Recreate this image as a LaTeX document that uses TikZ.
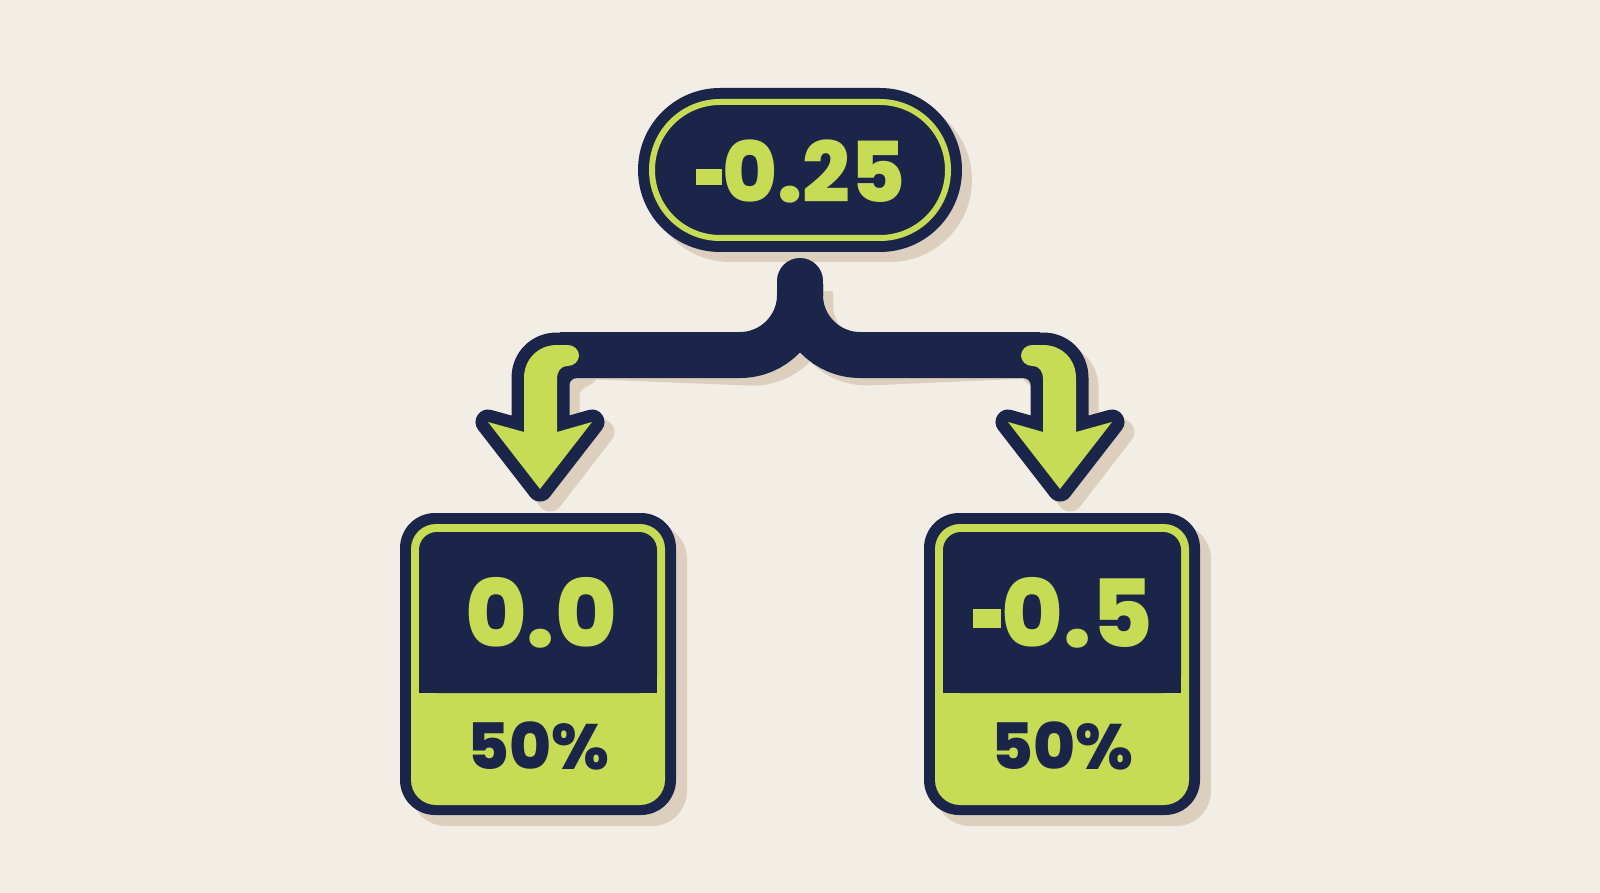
\documentclass[tikz,border=0pt]{standalone}
\usepackage{fontspec}
\newfontfamily\pop{Poppins ExtraBold}
\definecolor{bgc}{HTML}{F3EEE5}
\definecolor{navy}{HTML}{1A2549}
\definecolor{lime}{HTML}{C6DC55}
\definecolor{shadowc}{HTML}{DCCFBD}
\newcommand{\minus}{\rule[0.21em]{0.3em}{0.2em}\kern0.01em}
\tikzset{
  topval/.style={font=\pop\fontsize{84}{84}\selectfont, text=lime, inner sep=0pt},
  bigval/.style={font=\pop\fontsize{94}{94}\selectfont, text=lime, inner sep=0pt},
  pct/.style={font=\pop\fontsize{64}{64}\selectfont, text=navy, inner sep=0pt},
  outline/.style={line width=25pt, line join=round},
  bar/.style={line width=46pt, rounded corners=60pt}
}
% left arrow piece (green body), drawn with given options
\newcommand{\arrowpiece}[1]{%
  \path[#1] (568,345) -- (557,345)
    .. controls (538.2,345) and (524,359.2) .. (524,378)
    -- (524,432) -- (488,422) -- (540,489) -- (592,422) -- (557,432) -- (557,378)
    .. controls (557,371.4) and (561.4,366) .. (567,366) -- (568,366)
    .. controls (574,366) and (579,361) .. (579,355.5)
    .. controls (579,350) and (574,345) .. (568,345) -- cycle;}
% small concave fillet between bar and shaft outline
\newcommand{\fillet}[1]{%
  \fill[#1] (569,378) -- (577,378) .. controls (572.6,378) and (569,381.6) .. (569,386) -- cycle;}
% the whole connector: #1 dark colour, #2 light colour
\newcommand{\connector}[2]{%
  \fill[#1] (knob) circle[radius=23pt];
  \fill[#1] (777,281) rectangle (823,300);
  \draw[#1, bar] (800,284) -- (800,355) -- (barL);
  \draw[#1, bar] (800,284) -- (800,355) -- (barR);
  \arrowpiece{fill=#1, draw=#1, outline}
  \fillet{#1}
  \begin{scope}[xshift=1600pt, xscale=-1]
    \arrowpiece{fill=#1, draw=#1, outline}
    \fillet{#1}
  \end{scope}
  \arrowpiece{fill=#2}
  \begin{scope}[xshift=1600pt, xscale=-1]
    \arrowpiece{fill=#2}
  \end{scope}}
% result box: #1 xshift, #2 value, #3 name, #4 value x
\newcommand{\resultbox}[4]{%
  \begin{scope}[xshift=#1]
    \fill[navy, rounded corners=35pt] (400,513) rectangle (676,815);
    \fill[lime, rounded corners=25pt] (411,524) rectangle (665,805);
    \fill[navy, rounded corners=18pt] (419,532) rectangle (657,693);
    \fill[navy] (419,650) rectangle (657,693);
    \node[bigval] (#3v) at (#4,613) {#2};
    \node[pct] (#3p) at (538,746) {50\%};
  \end{scope}}
\begin{document}
\begin{tikzpicture}[x=1pt,y=-1pt]
  \fill[bgc] (0,0) rectangle (1600,893);
  \useasboundingbox (0,0) rectangle (1600,893);
  \coordinate (knob) at (800,281);
  \coordinate (barL) at (560,355);
  \coordinate (barR) at (1040,355);
  % shadows
  \fill[shadowc, rounded corners=82pt] (648,98) rectangle (972,262);
  \begin{scope}[shift={(10,10)}]
    \connector{shadowc}{shadowc}
  \end{scope}
  \fill[shadowc, rounded corners=35pt] (411,524) rectangle (687,826);
  \fill[shadowc, rounded corners=35pt] (935,524) rectangle (1211,826);
  % top pill
  \fill[navy, rounded corners=82pt] (638,88) rectangle (962,252);
  \draw[lime, line width=6pt, rounded corners=68pt] (652,102) rectangle (948,238);
  \node[topval] (top) at (801,172) {\minus0.25};
  % connector
  \connector{navy}{lime}
  % boxes
  \resultbox{0pt}{0.0}{left}{541}
  \resultbox{524pt}{\minus0.5}{right}{1063-524}
\end{tikzpicture}
\end{document}
